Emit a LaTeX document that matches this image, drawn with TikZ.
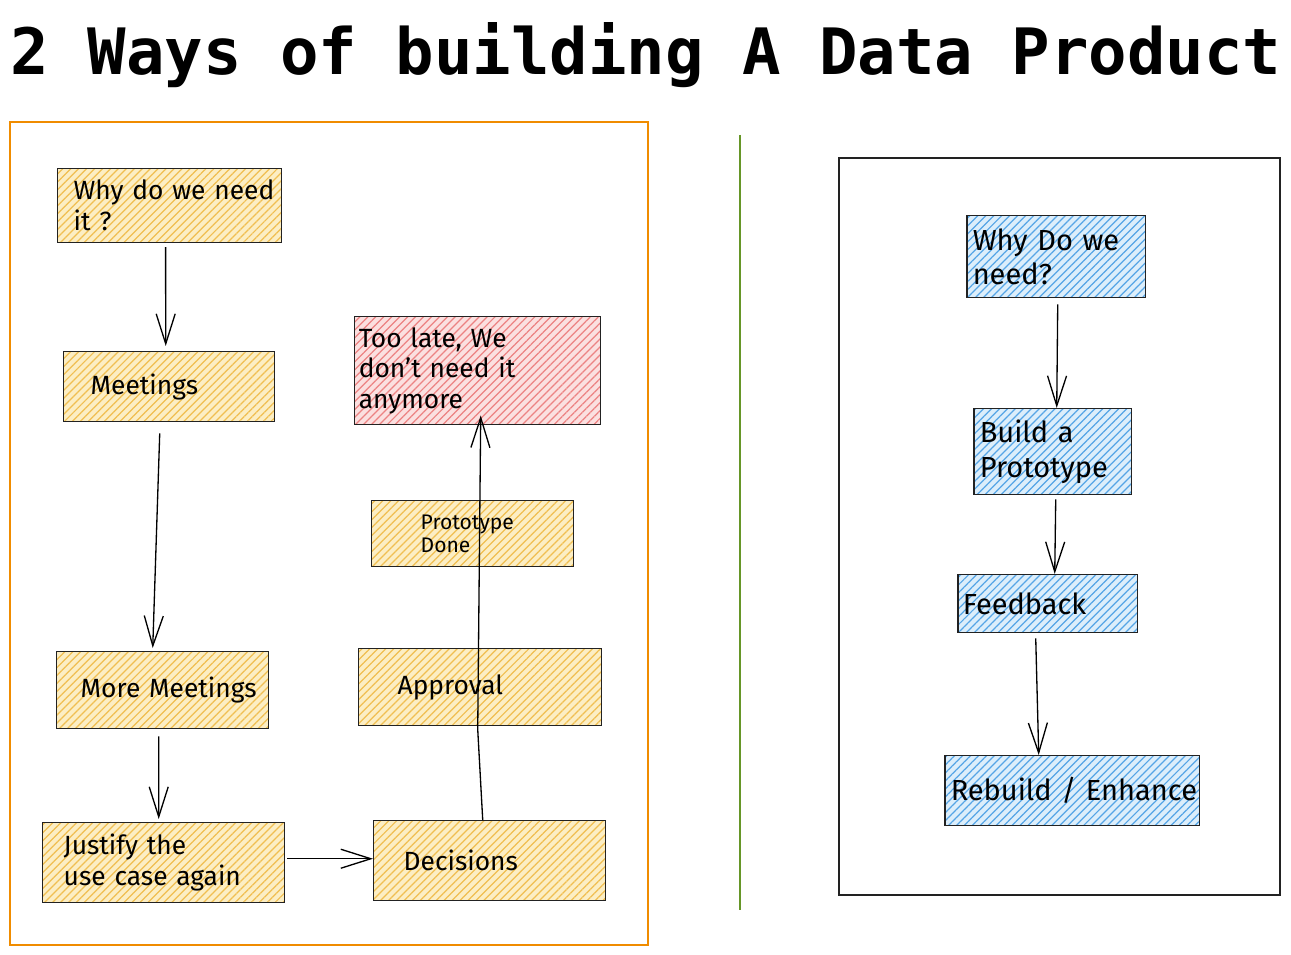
\documentclass[tikz,border=0pt]{standalone}
\usepackage{fontspec}
\setmainfont{Fira Sans}
\newfontfamily\titlefont{DejaVu Sans Mono}
\usetikzlibrary{patterns.meta,arrows.meta}
\definecolor{boxline}{RGB}{34,34,34}
\definecolor{ylwfill}{RGB}{252,238,196}
\definecolor{ylwline}{RGB}{240,190,80}
\definecolor{redfill}{RGB}{251,224,224}
\definecolor{redline}{RGB}{236,130,130}
\definecolor{bluefill}{RGB}{220,238,251}
\definecolor{blueline}{RGB}{85,165,230}
\definecolor{frameorange}{RGB}{240,140,0}
\definecolor{divgreen}{RGB}{102,150,40}

\begin{document}
\begin{tikzpicture}[
    x=0.02cm, y=-0.02cm,
	title/.style={
	  anchor=base,
	  font={\titlefont\bfseries\fontsize{36.4}{40}\selectfont}
	},
	box/.style={
	  rectangle,
	  anchor=north west,
	  align=left,
	  inner xsep=0.08cm,
	  inner ysep=0pt,
	  line width=0.85pt,
	  draw=boxline,
	  font=\fontsize{15}{17.5}\selectfont
	},
	lead/.style={execute at begin node={\leftskip=#1\hyphenpenalty=10000\exhyphenpenalty=10000}},
	yellowbox/.style={
	  box,
	  preaction={fill=ylwfill},
	  pattern={Lines[angle=45,distance=3.2pt,line width=0.7pt]},
	  pattern color=ylwline
	},
	redbox/.style={
	  box,
	  preaction={fill=redfill},
	  pattern={Lines[angle=45,distance=3.2pt,line width=0.7pt]},
	  pattern color=redline
	},
	bluebox/.style={
	  box,
	  preaction={fill=bluefill},
	  pattern={Lines[angle=45,distance=3.2pt,line width=0.7pt]},
	  pattern color=blueline,
	  font=\fontsize{16.5}{19.5}\selectfont
	},
 	line/.style={draw, line width=0.75pt, -{Straight Barb[length=0.6cm,width=0.38cm]}}
	]
	\useasboundingbox (0,0) rectangle (1291,955);
	\node at (646,75) [title] (title) {2 Ways of building A Data Product};
	\draw [frameorange, line width=0.6pt] (10,122) rectangle (648,945);
	\draw [divgreen, line width=0.9pt] (740,135) -- (740,910);
	\draw [boxline, line width=0.6pt] (839,158) rectangle (1280,895);
	\node at (57,168) [yellowbox, text width=4.32cm, lead=0.24cm, minimum height=1.48cm] (why) {Why~do~we~need\\it~?};
	\node at (63,351) [yellowbox, text width=4.06cm, lead=0.46cm, minimum height=1.40cm] (meet) {Meetings};
	\node at (56,651) [yellowbox, text width=4.08cm, lead=0.40cm, minimum height=1.54cm] (more) {More~Meetings};
	\node at (42,822) [yellowbox, text width=4.68cm, lead=0.34cm, minimum height=1.60cm] (just) {Justify~the\\use~case~again};
	\node at (373,820) [yellowbox, text width=4.48cm, lead=0.52cm, minimum height=1.60cm] (dec) {Decisions};
	\node at (358,648) [yellowbox, text width=4.70cm, lead=0.70cm, minimum height=1.54cm] (appr) {Approval};
	\node at (371,500) [yellowbox, text width=3.88cm, lead=0.90cm, minimum height=1.32cm, font=\fontsize{12}{13.5}\selectfont] (proto) {Prototype\\Done};
	\node at (354,316) [redbox, text width=4.76cm, lead=0cm, minimum height=2.16cm] (late) {Too~late,~We\\don't~need~it\\anymore};
	\node at (966,215) [bluebox, text width=3.42cm, lead=0.04cm, minimum height=1.64cm] (rwhy) {Why~Do~we\\need?};
	\node at (973,408) [bluebox, text width=3.00cm, lead=0.04cm, minimum height=1.72cm] (build) {Build~a\\Prototype};
	\node at (957,574) [bluebox, text width=3.44cm, lead=0.02cm, minimum height=1.16cm] (feed) {Feedback};
	\node at (944,755) [bluebox, text width=4.94cm, lead=0.04cm, minimum height=1.40cm] (rebuild) {Rebuild~/~Enhance};
	\path [line] ([xshift=-0.08cm,yshift=-0.08cm]why.south) -- ([xshift=-0.07cm,yshift=0.1cm]meet.north);
	\path [line] ([xshift=-0.19cm,yshift=-0.22cm]meet.south) -- ([xshift=-0.2cm,yshift=0.06cm]more.north);
	\path [line] ([xshift=-0.08cm,yshift=-0.14cm]more.south) -- ([xshift=-0.1cm,yshift=0.06cm]just.north);
	\path [line] ([xshift=0.04cm,yshift=0.08cm]just.east) -- ([yshift=0.08cm]just.east -| dec.west);
	\path [line] ([xshift=-0.14cm]dec.north) -- ([xshift=-0.05cm,yshift=-0.06cm]appr.south) -- ([xshift=0.06cm,yshift=0.2cm]late.south);
	\path [line] ([xshift=0.03cm,yshift=-0.12cm]rwhy.south) -- ([xshift=0.08cm]build.north);
	\path [line] ([xshift=0.06cm,yshift=-0.08cm]build.south) -- ([xshift=0.14cm]feed.north);
	\path [line] ([xshift=-0.24cm,yshift=-0.1cm]feed.south) -- ([xshift=-0.67cm]rebuild.north);
  \end{tikzpicture}
\end{document}
